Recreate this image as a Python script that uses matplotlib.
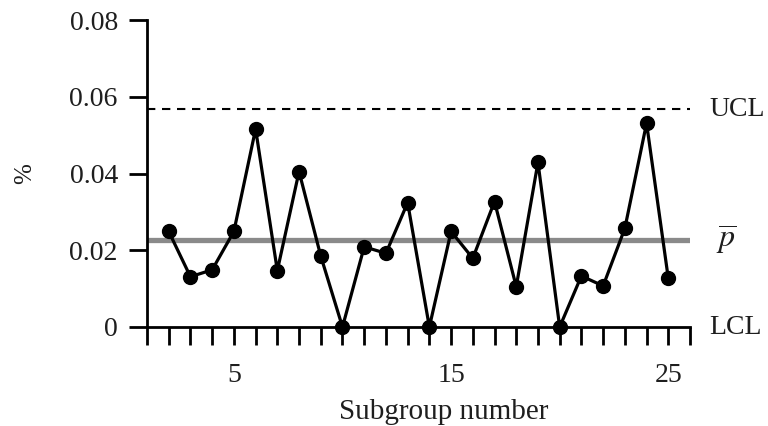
import matplotlib
matplotlib.use("Agg")
import matplotlib.pyplot as plt
import numpy as np

plt.rcParams["font.family"] = ["Liberation Serif", "DejaVu Serif"]
plt.rcParams["mathtext.fontset"] = "stix"

# p chart data
subgroups = list(range(2, 26))
p_values = [0.0249, 0.0131, 0.0149, 0.0249, 0.0516, 0.0147, 0.0405, 0.0185,
            0.0, 0.0209, 0.0192, 0.0324, 0.0, 0.0249, 0.0179, 0.0327,
            0.0105, 0.0429, 0.0, 0.0133, 0.0107, 0.0257, 0.0531, 0.0127]
ucl = 0.0568
p_bar = 0.0227
lcl = 0.0
y_ticks = [0, 0.02, 0.04, 0.06, 0.08]
y_tick_labels = ["0", "0.02", "0.04", "0.06", "0.08"]
x_labelled = [5, 15, 25]

text_color = "#1e1e1e"

fig = plt.figure(figsize=(7.68, 4.26), dpi=100)
ax = fig.add_axes([147 / 768, 1 - 327 / 426, 543 / 768, 307 / 426])

ax.axhline(p_bar, color="#8a8a8a", linewidth=3.8, zorder=1)
ax.axhline(ucl, color="black", linewidth=1.5, linestyle=(0, (4, 3.2)), zorder=1)
ax.plot(subgroups, p_values, color="black", linewidth=2.3, marker="o",
        markersize=10, zorder=3, clip_on=False)

ax.set_xlim(1, 26)
ax.set_ylim(0, 0.08)

ax.spines["top"].set_visible(False)
ax.spines["right"].set_visible(False)
for s in ("left", "bottom"):
    ax.spines[s].set_linewidth(2.0)

ax.set_yticks(y_ticks)
ax.set_yticklabels(y_tick_labels)
ax.set_xticks(range(1, 27))
ax.set_xticklabels([str(v) if v in x_labelled else "" for v in range(1, 27)])
ax.tick_params(axis="both", direction="out", length=13, width=2.0,
               labelsize=20, labelcolor=text_color, pad=8)
ax.tick_params(axis="x", pad=13)

ax.set_xlabel("Subgroup number", fontsize=21, color=text_color)
ax.xaxis.set_label_coords(0.547, -0.235)
ax.set_ylabel("%", fontsize=18, color=text_color, rotation=90, labelpad=24)

# control limit labels on the right
ax.text(26.9, ucl, "UCL", fontsize=20, color=text_color, va="center", ha="left")
ax.text(26.9, lcl, "LCL", fontsize=20, color=text_color, va="center", ha="left")
ax.text(27.2, p_bar, r"$\overline{p}$", fontsize=23, color=text_color,
        va="center", ha="left")

fig.savefig("out.png", dpi=100)
